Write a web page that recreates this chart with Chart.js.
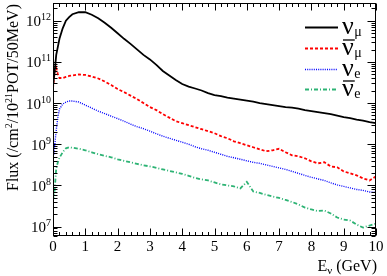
<!DOCTYPE html>
<html>
<head>
<meta charset="utf-8">
<script src="https://cdn.jsdelivr.net/npm/chart.js@4"></script>
<style>
  html, body { margin: 0; padding: 0; background: #fff; }
  #wrap { width: 387px; height: 276px; }
</style>
</head>
<body>
<div id="wrap"><canvas id="fluxChart" width="387" height="276"></canvas></div>
<script>
// Neutrino energy (GeV) at which the flux is read
const energies = [0, 0.05, 0.1, 0.15, 0.2, 0.3, 0.4, 0.5, 0.6, 0.8,
    1.0, 1.2, 1.4, 1.6, 1.8, 2.0, 2.2, 2.4, 2.6, 2.8,
    3.0, 3.2, 3.4, 3.6, 3.8, 4.0, 4.2, 4.4, 4.6, 4.8,
    5.0, 5.2, 5.4, 5.6, 5.8, 6.0, 6.2, 6.4, 6.6, 6.8,
    7.0, 7.2, 7.4, 7.6, 7.8, 8.0, 8.2, 8.4, 8.6, 8.8,
    9.0, 9.2, 9.4, 9.6, 9.8, 10.0];

// Flux (/cm2/1e21 POT/50 MeV)
const numu = [2.60e10, 5.70e10, 1.48e11, 2.32e11, 3.64e11, 6.56e11, 1.0e12, 1.22e12, 1.44e12, 1.61e12,
    1.61e12, 1.40e12, 1.15e12, 8.94e11, 6.75e11, 4.96e11, 3.64e11, 2.75e11, 2.02e11, 1.48e11,
    1.15e11, 8.45e10, 6.03e10, 4.69e10, 3.64e10, 2.90e10, 2.52e10, 2.26e10, 2.02e10, 1.75e10,
    1.57e10, 1.48e10, 1.36e10, 1.29e10, 1.22e10, 1.15e10, 1.09e10, 1.0e10, 9.46e9, 8.94e9,
    8.45e9, 7.98e9, 7.76e9, 7.34e9, 6.75e9, 6.38e9, 6.03e9, 5.70e9, 5.39e9, 4.96e9,
    4.56e9, 4.31e9, 3.96e9, 3.74e9, 3.44e9, 3.25e9];
const numubar = [2.32e10, 5.70e10, 7.14e10, 5.09e10, 4.07e10, 4.07e10, 4.31e10, 4.56e10, 4.69e10, 4.96e10,
    4.82e10, 4.43e10, 3.96e10, 3.34e10, 2.75e10, 2.19e10, 1.85e10, 1.52e10, 1.25e10, 1.0e10,
    7.98e9, 6.75e9, 5.39e9, 4.43e9, 3.64e9, 3.25e9, 2.90e9, 2.60e9, 2.32e9, 2.08e9,
    1.85e9, 1.57e9, 1.40e9, 1.18e9, 1.06e9, 9.46e8, 8.45e8, 7.55e8, 6.75e8, 7.14e8,
    7.76e8, 6.38e8, 5.39e8, 5.09e8, 4.56e8, 3.85e8, 3.44e8, 3.64e8, 2.90e8, 2.75e8,
    2.19e8, 1.96e8, 1.75e8, 1.48e8, 1.32e8, 1.66e8];
const nue = [4.31e8, 9.0e8, 2.19e9, 4.43e9, 7.14e9, 9.46e9, 1.06e10, 1.12e10, 1.12e10, 1.06e10,
    8.94e9, 7.55e9, 6.38e9, 5.55e9, 4.82e9, 4.19e9, 3.64e9, 3.08e9, 2.67e9, 2.39e9,
    2.08e9, 1.80e9, 1.57e9, 1.40e9, 1.25e9, 1.12e9, 1.0e9, 8.69e8, 7.76e8, 7.14e8,
    6.38e8, 5.70e8, 5.09e8, 4.69e8, 4.31e8, 3.96e8, 3.64e8, 3.44e8, 3.16e8, 2.90e8,
    2.67e8, 2.45e8, 2.19e8, 1.96e8, 1.75e8, 1.57e8, 1.44e8, 1.32e8, 1.15e8, 1.03e8,
    9.46e7, 8.69e7, 7.98e7, 7.55e7, 6.94e7, 6.75e7];
const nuebar = [4.31e7, 7.55e7, 2.60e8, 3.64e8, 4.69e8, 6.38e8, 7.98e8, 8.45e8, 8.22e8, 7.76e8,
    7.14e8, 6.38e8, 5.70e8, 5.25e8, 4.82e8, 4.31e8, 3.96e8, 3.64e8, 3.34e8, 3.08e8,
    2.90e8, 2.67e8, 2.45e8, 2.26e8, 2.08e8, 1.91e8, 1.71e8, 1.52e8, 1.40e8, 1.32e8,
    1.18e8, 1.06e8, 1.0e8, 9.46e7, 8.45e7, 1.22e8, 7.14e7, 6.56e7, 5.87e7, 5.39e7,
    4.96e7, 4.43e7, 3.96e7, 3.44e7, 2.90e7, 2.60e7, 2.39e7, 2.45e7, 2.08e7, 1.66e7,
    1.48e7, 1.40e7, 1.12e7, 9.46e6, 1.06e7, 1.18e7];

// Axis ticks
const xTickLabels = ['0', '1', '2', '3', '4', '5', '6', '7', '8', '9', '10'];
const yDecades = [7, 8, 9, 10, 11, 12];

const SERIF = '"Liberation Serif", "DejaVu Serif", serif';

const series = [
    { label: 'ν', sub: 'μ', bar: false, data: numu, color: '#000000', dash: [], width: 1.8 },
    { label: 'ν', sub: 'μ', bar: true, data: numubar, color: '#ff0000', dash: [3, 2], width: 1.8 },
    { label: 'ν', sub: 'e', bar: false, data: nue, color: '#0000ff', dash: [1, 1.2], width: 1.4 },
    { label: 'ν', sub: 'e', bar: true, data: nuebar, color: '#2db374', dash: [4, 2, 1, 2], width: 1.8 }
];

// draws a list of [text, fontSize, dy] pieces left to right, returns end x
function drawPieces(ctx, pieces, x, y) {
    pieces.forEach(p => {
        ctx.font = p[1] + 'px ' + SERIF;
        ctx.fillText(p[0], x, y + p[2]);
        x += ctx.measureText(p[0]).width;
    });
    return x;
}
function piecesWidth(ctx, pieces) {
    let w = 0;
    pieces.forEach(p => {
        ctx.font = p[1] + 'px ' + SERIF;
        w += ctx.measureText(p[0]).width;
    });
    return w;
}

const framePlugin = {
    id: 'frame',
    afterDraw(chart) {
        const ctx = chart.ctx;
        const xs = chart.scales.x, ys = chart.scales.y;
        const a = chart.chartArea;
        const L = Math.round(a.left) + 0.5, R = Math.round(a.right) - 0.5;
        const T = Math.round(a.top) + 0.5, B = Math.round(a.bottom) - 0.5;

        ctx.save();
        ctx.strokeStyle = '#000';
        ctx.fillStyle = '#000';
        ctx.lineWidth = 1;
        ctx.setLineDash([]);
        ctx.strokeRect(L, T, R - L, B - T);

        // ticks on all four sides, pointing inwards
        ctx.beginPath();
        for (let i = 0; i <= 50; i++) {
            const px = Math.round(xs.getPixelForValue(i / 5)) + 0.5;
            const len = i % 5 === 0 ? 7 : 3.5;
            ctx.moveTo(px, B); ctx.lineTo(px, B - len);
            ctx.moveTo(px, T); ctx.lineTo(px, T + len);
        }
        for (let e = 6; e <= 12; e++) {
            for (let m = 1; m <= 9; m++) {
                const v = m * Math.pow(10, e);
                if (v < ys.min || v > ys.max) continue;
                const py = Math.round(ys.getPixelForValue(v)) + 0.5;
                const len = m === 1 ? 8 : 4;
                ctx.moveTo(L, py); ctx.lineTo(L + len, py);
                ctx.moveTo(R, py); ctx.lineTo(R - len, py);
            }
        }
        ctx.stroke();

        // x tick labels
        ctx.textBaseline = 'alphabetic';
        ctx.textAlign = 'center';
        ctx.font = '15px ' + SERIF;
        xTickLabels.forEach((t, i) => {
            ctx.fillText(t, xs.getPixelForValue(i), 251);
        });

        // y tick labels 10^n
        ctx.textAlign = 'left';
        yDecades.forEach(e => {
            const py = ys.getPixelForValue(Math.pow(10, e));
            const pieces = [['10', 15, 5.5], [String(e), 10, -0.5]];
            const w = piecesWidth(ctx, pieces);
            drawPieces(ctx, pieces, 51 - w, py);
        });

        // x title
        const xt = [['E', 16, 0], ['ν', 11, 3], [' (GeV)', 16, 0]];
        drawPieces(ctx, xt, 377 - piecesWidth(ctx, xt), 271);

        // y title, rotated, ending near the top of the frame
        const yt = [['Flux (/cm', 16, 0], ['2', 10, -6], ['/10', 16, 0], ['21', 10, -6], ['POT/50MeV)', 16, 0]];
        const yw = piecesWidth(ctx, yt);
        ctx.save();
        ctx.translate(18, 4 + yw);
        ctx.rotate(-Math.PI / 2);
        drawPieces(ctx, yt, 0, 0);
        ctx.restore();

        // legend
        const rows = [27, 48, 69, 89];
        series.forEach((s, i) => {
            const ly = rows[i] + 0.5;
            ctx.strokeStyle = s.color;
            ctx.lineWidth = s.width;
            ctx.setLineDash(s.dash);
            ctx.beginPath();
            ctx.moveTo(305, ly); ctx.lineTo(338, ly);
            ctx.stroke();
            ctx.setLineDash([]);
            ctx.fillStyle = '#000';
            ctx.font = '26px ' + SERIF;
            ctx.fillText(s.label, 342, rows[i] + 6.5);
            const nw = ctx.measureText(s.label).width;
            ctx.font = '14px ' + SERIF;
            ctx.fillText(s.sub, 342 + nw + 0.5, rows[i] + 9);
            if (s.bar) {
                ctx.strokeStyle = '#000';
                ctx.lineWidth = 1.3;
                ctx.beginPath();
                ctx.moveTo(343, rows[i] - 8); ctx.lineTo(343 + nw, rows[i] - 8);
                ctx.stroke();
            }
        });
        ctx.restore();
    }
};

const ctx = document.getElementById('fluxChart').getContext('2d');
new Chart(ctx, {
    type: 'line',
    data: {
        datasets: series.map(s => ({
            data: energies.map((e, i) => ({ x: e, y: s.data[i] })),
            borderColor: s.color,
            borderWidth: s.width,
            borderDash: s.dash,
            pointRadius: 0,
            tension: 0,
            fill: false
        }))
    },
    options: {
        responsive: false,
        devicePixelRatio: 1,
        animation: false,
        layout: { padding: { left: 53, right: 11, top: 3, bottom: 40 } },
        plugins: { legend: { display: false }, tooltip: { enabled: false } },
        scales: {
            x: { type: 'linear', min: 0, max: 10, display: false },
            y: { type: 'logarithmic', min: 5.9e6, max: 2.7e12, display: false }
        }
    },
    plugins: [framePlugin]
});
</script>
</body>
</html>
